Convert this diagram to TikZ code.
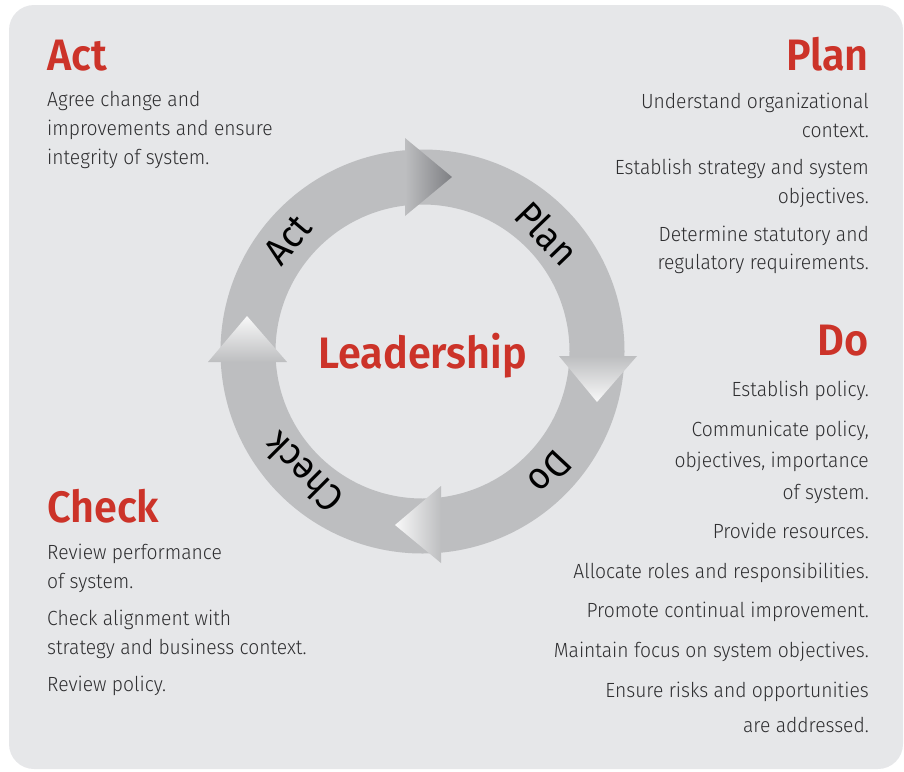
\documentclass[tikz,border=0pt]{standalone}
\usepackage{fontspec}
\setmainfont{Fira Sans}[FakeStretch=0.94, UprightFont=* Light]
\newfontfamily\ringfont{Fira Sans}[FakeStretch=0.94]
\definecolor{pdcared}{HTML}{CC3329}
\definecolor{pdcabg}{HTML}{E6E7E9}
\definecolor{pdcaring}{HTML}{BDBEC0}
\definecolor{pdcadark}{HTML}{7E7F83}
\definecolor{pdcatext}{HTML}{2E2E30}
\tikzset{
  heading/.style={font=\fontsize{44}{44}\selectfont\bfseries, text=pdcared, inner sep=0pt},
  bodyline/.style={font=\fontsize{20.5}{20.5}\selectfont, text=pdcatext, inner sep=0pt},
  ringlabel/.style={font=\ringfont\fontsize{38}{38}\selectfont, text=black, inner sep=0pt},
}

\begin{document}
\begin{tikzpicture}[x=1pt,y=-1pt]
    \useasboundingbox (0,0) rectangle (904,771);
    \fill[pdcabg, rounded corners=25pt] (9,5) rectangle (903,769);
    % ring and arrow heads
    \coordinate (c) at (422.5,351.5);
    \draw[pdcaring, line width=55pt] (c) circle[radius=174.5pt];
    \shade[left color=pdcaring, right color=pdcadark] (405,138) -- (405,216) -- (452,177) -- cycle; % act -> plan
    \shade[top color=pdcaring, bottom color=white!90!pdcaring] (559,356) -- (637,356) -- (597,402) -- cycle; % plan -> do
    \shade[left color=white!90!pdcaring, right color=pdcaring] (441,486) -- (441,563) -- (395,525) -- cycle; % do -> check
    \shade[top color=white!90!pdcaring, bottom color=pdcaring] (208,362) -- (287,362) -- (247,316) -- cycle; % check -> act
    \node[ringlabel, rotate=50] (r-act) at (288,240) {Act};
    \node[ringlabel, rotate=-46] (r-plan) at (547,233) {Plan};
    \node[ringlabel, rotate=-133] (r-do) at (550,472) {Do};
    \node[ringlabel, rotate=135] (r-check) at (303,473) {Check};
    \node[heading, anchor=base] (lead) at (422.5,368) {Leadership};
    % Act
    \node[heading, anchor=base west] (act-head) at (47,70) {Act};
    \foreach \ypos/\txt [count=\i] in {106/Agree change and, 135/improvements and ensure, 164/integrity of system.}
        \node[bodyline, anchor=base west] (act-\i) at (47,\ypos) {\txt};
    % Plan
    \node[heading, anchor=base east] (plan-head) at (869,70) {Plan};
    \foreach \ypos/\txt [count=\i] in {108/Understand organizational, 137/context., 174/Establish strategy and system, 203/objectives., 241/Determine statutory and, 269/regulatory requirements.}
        \node[bodyline, anchor=base east] (plan-\i) at (869,\ypos) {\txt};
    % Do
    \node[heading, anchor=base east] (do-head) at (869,355) {Do};
    \foreach \ypos/\txt [count=\i] in {396/Establish policy., 436/{Communicate policy,}, 467/{objectives, importance}, 499/of system., 538/Provide resources., 578/Allocate roles and responsibilities., 617/Promote continual improvement., 657/Maintain focus on system objectives., 697/Ensure risks and opportunities, 732/are addressed.}
        \node[bodyline, anchor=base east] (do-\i) at (869,\ypos) {\txt};
    % Check
    \node[heading, anchor=base west] (check-head) at (47,522) {Check};
    \foreach \ypos/\txt [count=\i] in {559/Review performance, 588/of system., 625/Check alignment with, 654/strategy and business context., 691/Review policy.}
        \node[bodyline, anchor=base west] (check-\i) at (47,\ypos) {\txt};
\end{tikzpicture}
\end{document}
